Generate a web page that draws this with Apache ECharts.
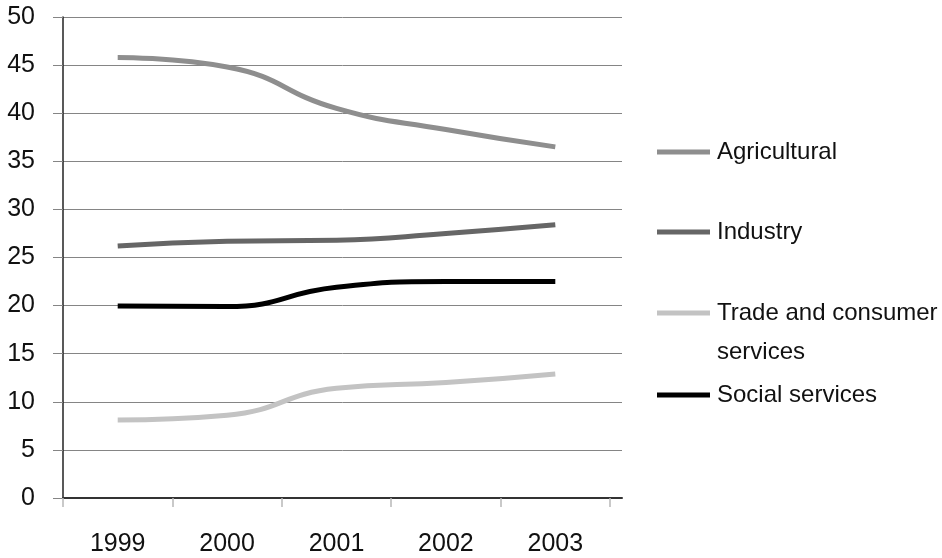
<!DOCTYPE html>
<html>
<head>
<meta charset="utf-8">
<title>Employment by sector, 1999–2003</title>
<script src="https://cdn.jsdelivr.net/npm/echarts@6/dist/echarts.min.js"></script>
<style>
  html, body { margin: 0; padding: 0; background: #ffffff; }
  #chart { width: 942px; height: 558px; }
</style>
</head>
<body>
<div id="chart"></div>
<script>
// Years on the category axis
const years = ['1999', '2000', '2001', '2002', '2003'];

// Share of employment by sector (%)
const agricultural = [45.8, 44.8, 40.5, 38.3, 36.5];
const industry = [26.2, 26.7, 26.8, 27.5, 28.4];
const tradeConsumer = [8.1, 8.6, 11.4, 12.0, 12.9];
const socialServices = [19.95, 19.9, 21.9, 22.5, 22.5];

// Value axis range
const yMin = 0;
const yMax = 50;
const yStep = 5;

const FONT = '"Liberation Sans", Arial, sans-serif';
const GRID_TOP = 17;
const GRID_BOTTOM = 60;

const names = {
  agri: 'Agricultural',
  ind: 'Industry',
  trade: 'Trade and consumer services',
  social: 'Social services'
};

const colors = {
  agri: '#8e8e8e',
  ind: '#666666',
  trade: '#c3c3c3',
  social: '#000000'
};

function lineSeries(name, data, color) {
  return {
    name: name,
    type: 'line',
    xAxisIndex: 1,
    yAxisIndex: 1,
    data: data,
    smooth: 0.5,
    symbol: 'none',
    lineStyle: { color: color, width: 5, cap: 'butt' },
    itemStyle: { color: color },
    z: 3
  };
}

function legendFor(name, top) {
  return {
    data: [name],
    orient: 'vertical',
    left: 657,
    top: top,
    padding: 0,
    icon: 'rect',
    itemWidth: 53,
    itemHeight: 5,
    selectedMode: false,
    textStyle: {
      fontFamily: FONT,
      fontSize: 24,
      lineHeight: 39,
      color: '#111111',
      padding: [0, 0, 0, 2]
    }
  };
}

// The long sector name wraps onto a second line; an empty leading line keeps
// the swatch level with the first line of text.
const tradeLegend = legendFor(names.trade, 254.5);
tradeLegend.formatter = function () { return ' \nTrade and consumer\nservices'; };

const chart = echarts.init(document.getElementById('chart'), null, { renderer: 'canvas' });

chart.setOption({
  backgroundColor: '#ffffff',
  animation: false,
  grid: [
    // frame: gridlines and axis lines span slightly past the last category
    { left: 63, right: 320, top: GRID_TOP, bottom: GRID_BOTTOM, containLabel: false },
    // plotting area for the yearly categories
    { left: 63, width: 547, top: GRID_TOP, bottom: GRID_BOTTOM, containLabel: false }
  ],
  xAxis: [
    {
      gridIndex: 0,
      type: 'value',
      min: 0,
      max: 1,
      axisLine: { show: true, lineStyle: { color: '#333333', width: 2 } },
      axisTick: { show: false },
      axisLabel: { show: false },
      splitLine: { show: false }
    },
    {
      gridIndex: 1,
      type: 'category',
      data: years,
      boundaryGap: true,
      axisLine: { show: false },
      axisTick: {
        show: true,
        alignWithLabel: false,
        length: 9,
        lineStyle: { color: '#b8b8b8', width: 1.5 }
      },
      axisLabel: {
        fontFamily: FONT,
        fontSize: 25,
        color: '#111111',
        margin: 34
      },
      splitLine: { show: false }
    }
  ],
  yAxis: [
    {
      gridIndex: 0,
      type: 'value',
      min: yMin,
      max: yMax,
      interval: yStep,
      axisLine: { show: true, lineStyle: { color: '#222222', width: 1.5 } },
      axisTick: {
        show: true,
        inside: false,
        length: 10,
        lineStyle: { color: '#858585', width: 1 }
      },
      axisLabel: {
        fontFamily: FONT,
        fontSize: 25,
        color: '#111111',
        margin: 28
      },
      splitLine: { show: true, lineStyle: { color: '#858585', width: 1 } }
    },
    {
      gridIndex: 1,
      type: 'value',
      min: yMin,
      max: yMax,
      interval: yStep,
      show: false
    }
  ],
  legend: [
    legendFor(names.agri, 132.5),
    legendFor(names.ind, 212.5),
    tradeLegend,
    legendFor(names.social, 375.5)
  ],
  series: [
    lineSeries(names.agri, agricultural, colors.agri),
    lineSeries(names.ind, industry, colors.ind),
    lineSeries(names.trade, tradeConsumer, colors.trade),
    lineSeries(names.social, socialServices, colors.social)
  ]
});
</script>
</body>
</html>
